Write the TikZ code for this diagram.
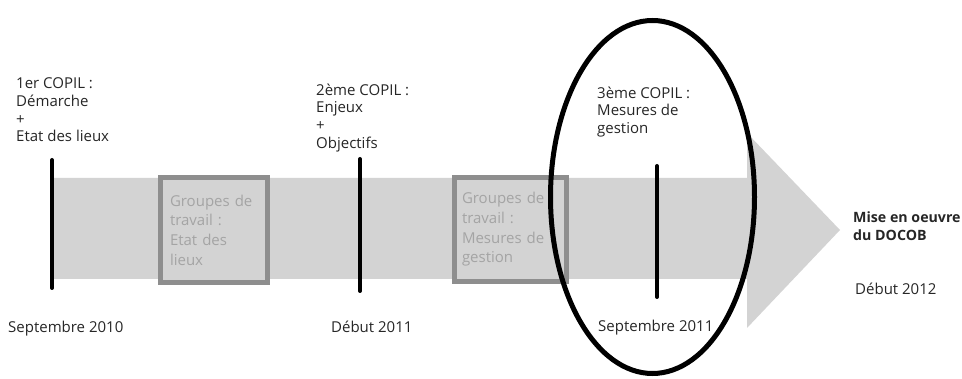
\documentclass[tikz,border=0pt]{standalone}
\usepackage{fontspec}
\setmainfont{Open Sans}
\usetikzlibrary{shapes.geometric}
\definecolor{bandgray}{HTML}{D3D3D3}
\definecolor{boxgray}{HTML}{8E8E8E}
\definecolor{boxtxt}{HTML}{A4A4A4}
\definecolor{txt}{HTML}{262626}
\begin{document}
\begin{tikzpicture}[x=1pt,y=-1pt,
  lbl/.style={anchor=north west, inner sep=0pt, align=left, text=txt,
    font=\fontsize{15}{17.8}\selectfont},
  gbox/.style={draw=boxgray, line width=5pt, fill=bandgray, align=left,
    text=boxtxt, inner ysep=0pt, font=\fontsize{15}{19.6}\selectfont},
  bar/.style={line width=4pt, line cap=round, black},
  ring/.style={draw=black, line width=5pt, ellipse, inner sep=0pt}]
\useasboundingbox (0,0) rectangle (962,379);
% band with arrow head
\fill[bandgray] (52,178) -- (747,178) -- (747,133) -- (840,230) -- (747,328)
  -- (747,279) -- (52,279) -- cycle;
% work-group boxes
\node[gbox, text width=88pt, inner xsep=9.5pt, minimum height=105pt] (g1) at (214,230)
  {Groupes de\\travail :\\Etat des\\lieux};
\node[gbox, text width=97pt, inner xsep=7.5pt, minimum height=104pt] (g2) at (510.5,229.5)
  {Groupes de\\travail :\\Mesures de\\gestion};
% milestone bars
\coordinate (b1t) at (52,160); \coordinate (b1b) at (52,288);
\coordinate (b2t) at (360,159); \coordinate (b2b) at (360,291);
\coordinate (b3t) at (657,166); \coordinate (b3b) at (657,297);
\draw[bar] (b1t) -- (b1b);
\draw[bar] (b2t) -- (b2b);
\draw[bar] (b3t) -- (b3b);
% top labels
\node[lbl] (c1) at (16,77.5) {1er COPIL :\\Démarche\\+\\Etat des lieux};
\node[lbl] (c2) at (316,83.5) {2ème COPIL :\\Enjeux\\+\\Objectifs};
\node[lbl] (c3) at (597,86.5) {3ème COPIL :\\Mesures de\\gestion};
% dates
\node[lbl] (d1) at (8,320.5) {Septembre 2010};
\node[lbl] (d2) at (331,320.5) {Début 2011};
\node[lbl] (d3) at (598,319.5) {Septembre 2011};
\node[lbl, font=\bfseries\fontsize{14.2}{18}\selectfont] (m) at (853,211.5) {Mise en oeuvre\\du DOCOB};
\node[lbl] (d4) at (855,282.5) {Début 2012};
% highlight ellipse
\node[ring, minimum width=204pt, minimum height=353pt] (hl) at (652.5,197) {};
\end{tikzpicture}
\end{document}
